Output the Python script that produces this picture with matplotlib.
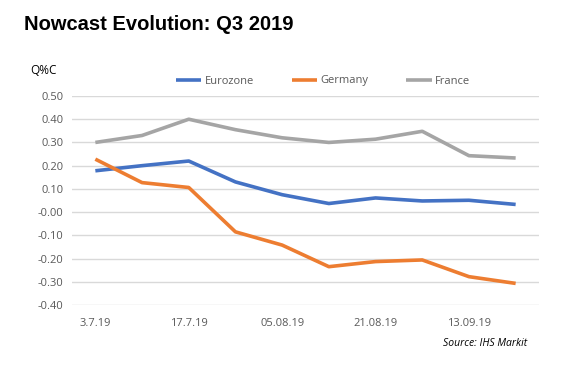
import numpy as np
import matplotlib.pyplot as plt

# nowcast values (Q/Q % change)
dates = ['3.7.19', '', '17.7.19', '', '05.08.19', '', '21.08.19', '', '13.09.19', '']
eurozone = [0.178, 0.200, 0.220, 0.130, 0.075, 0.037, 0.061, 0.048, 0.051, 0.033]
germany = [0.228, 0.127, 0.106, -0.085, -0.142, -0.235, -0.213, -0.206, -0.278, -0.307]
france = [0.300, 0.330, 0.400, 0.355, 0.320, 0.300, 0.314, 0.348, 0.243, 0.233]

grey_txt = '#595959'
plt.rcParams['font.family'] = ['Open Sans', 'DejaVu Sans']

fig = plt.figure(figsize=(5.79, 3.71), dpi=100)
ax = fig.add_axes([72/579, 1 - 305/371, 467/579, 209/371])

x = np.arange(len(dates))
ax.plot(x, eurozone, color='#4472C4', lw=2.6, label='Eurozone', solid_capstyle='butt')
ax.plot(x, germany, color='#ED7D31', lw=2.6, label='Germany', solid_capstyle='butt')
ax.plot(x, france, color='#A5A5A5', lw=2.6, label='France', solid_capstyle='butt')

ax.set_xlim(-0.5, len(dates) - 0.5)
ax.set_ylim(-0.4, 0.5)
yt = np.arange(-0.4, 0.51, 0.1)
ax.set_yticks(yt)
ax.set_yticklabels([f'{v:.2f}' for v in yt], color=grey_txt, fontsize=8)
ax.set_xticks(x)
ax.set_xticklabels(dates, color=grey_txt, fontsize=8)
ax.tick_params(length=0, pad=6)
ax.tick_params(axis='x', pad=9)
ax.grid(axis='y', color='#D9D9D9', lw=1)
ax.set_axisbelow(True)
for s in ax.spines.values():
    s.set_visible(False)

fig.text(24/579, 1 - 30/371, 'Nowcast Evolution: Q3 2019', fontsize=14.5,
         fontweight='bold', family='Liberation Sans', color='black')
fig.text(30/579, 1 - 70/371, 'Q%C', fontsize=8.5, color='black', va='center')
fig.text(527/579, 1 - 343/371, 'Source: IHS Markit', fontsize=7.5, style='italic',
         color='black', ha='right', va='center')

fig.legend(loc='center', bbox_to_anchor=(323/579, 1 - 81/371), ncol=3, frameon=False,
           fontsize=8, labelcolor=grey_txt, handlelength=2.3, handletextpad=0.3,
           columnspacing=3.4)

fig.savefig('out.png', dpi=100)
